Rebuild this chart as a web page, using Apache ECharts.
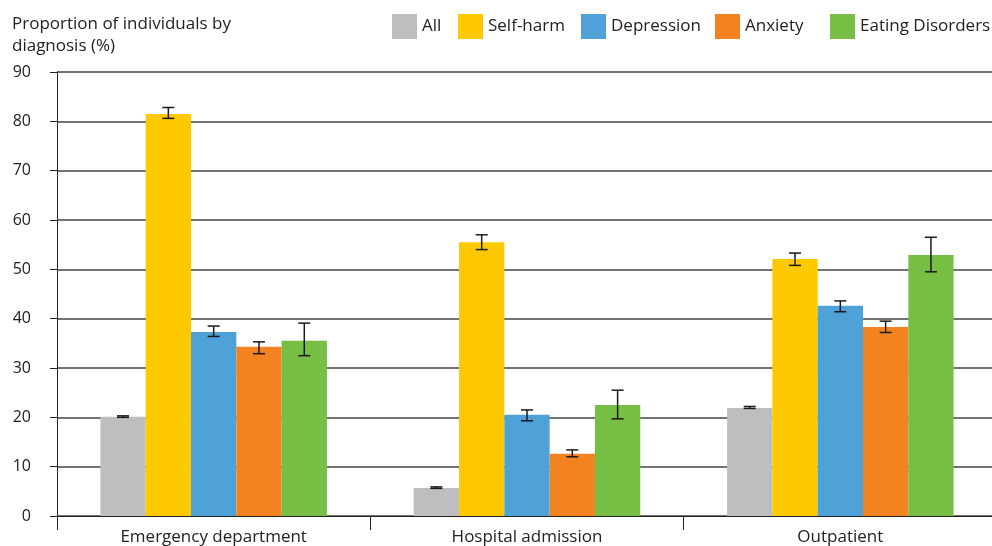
<!DOCTYPE html>
<html><head><meta charset="utf-8">
<script src="https://cdn.jsdelivr.net/npm/echarts@6/dist/echarts.min.js"></script>
<style>html,body{margin:0;padding:0;background:#fff}#c{width:992px;height:546px}</style>
</head><body><div id="c"></div>
<script>
const categories = ['Emergency department', 'Hospital admission', 'Outpatient'];
const seriesNames = ['All', 'Self-harm', 'Depression', 'Anxiety', 'Eating Disorders'];
const colors = ['#bdbec0', '#ffc900', '#4ea2d7', '#f38321', '#76bf44'];
const allVals = [20.1, 5.7, 21.9];
const selfHarmVals = [81.5, 55.5, 52.1];
const depressionVals = [37.3, 20.5, 42.6];
const anxietyVals = [34.3, 12.6, 38.3];
const eatingVals = [35.5, 22.5, 52.9];
const allLow = [20.0, 5.6, 21.8], allHigh = [20.3, 5.9, 22.2];
const selfHarmLow = [80.6, 54.0, 50.8], selfHarmHigh = [82.8, 57.0, 53.3];
const depressionLow = [36.4, 19.3, 41.4], depressionHigh = [38.5, 21.5, 43.6];
const anxietyLow = [32.9, 12.0, 37.2], anxietyHigh = [35.3, 13.4, 39.5];
const eatingLow = [32.5, 19.7, 49.5], eatingHigh = [39.1, 25.5, 56.5];
const yTicks = [0, 10, 20, 30, 40, 50, 60, 70, 80, 90];

const values = [allVals, selfHarmVals, depressionVals, anxietyVals, eatingVals];
const lows = [allLow, selfHarmLow, depressionLow, anxietyLow, eatingLow];
const highs = [allHigh, selfHarmHigh, depressionHigh, anxietyHigh, eatingHigh];
const CAT_GAP = 0.277;
const FONT = 'Open Sans';
const legendLefts = [392, 458, 581, 715, 830];

const series = [];
seriesNames.forEach((n, i) => {
  series.push({
    name: n, type: 'bar', data: values[i], barGap: '0%', barCategoryGap: (CAT_GAP * 100) + '%',
    itemStyle: { color: colors[i] }, z: 2
  });
});
seriesNames.forEach((n, i) => {
  series.push({
    type: 'custom', name: n + '_err', z: 5, silent: true,
    data: categories.map((c, k) => [k, lows[i][k], highs[i][k]]),
    renderItem: function (params, api) {
      const k = api.value(0);
      const lo = api.coord([k, api.value(1)]);
      const hi = api.coord([k, api.value(2)]);
      const cw = api.size([1, 0])[0];
      const bw = cw * (1 - CAT_GAP) / 5;
      const x = lo[0] + (i - 2) * bw;
      const cap = 6;
      const st = { stroke: '#1a1a1a', lineWidth: 1.5 };
      return { type: 'group', children: [
        { type: 'line', shape: { x1: x, y1: lo[1], x2: x, y2: hi[1] }, style: st },
        { type: 'line', shape: { x1: x - cap, y1: lo[1], x2: x + cap, y2: lo[1] }, style: st },
        { type: 'line', shape: { x1: x - cap, y1: hi[1], x2: x + cap, y2: hi[1] }, style: st }
      ]};
    }
  });
});

const legends = seriesNames.map((n, i) => ({
  data: [n], left: legendLefts[i], top: 14, padding: 0, itemWidth: 25, itemHeight: 25, itemGap: 0,
  icon: 'rect',
  textStyle: { fontFamily: FONT, fontSize: 17, color: '#222' }
}));

const chart = echarts.init(document.getElementById('c'));
chart.setOption({
  animation: false,
  textStyle: { fontFamily: FONT },
  title: {
    text: 'Proportion of individuals by\ndiagnosis (%)', left: 7, top: 8,
    textStyle: { fontFamily: FONT, fontSize: 17, fontWeight: 'normal', color: '#222', lineHeight: 22 }
  },
  legend: legends,
  grid: { left: 57, top: 72, width: 940, height: 444, containLabel: false, outerBoundsMode: 'none' },
  xAxis: {
    type: 'category', data: categories,
    axisLine: { lineStyle: { color: '#222', width: 1 } },
    axisTick: { show: true, length: 14, lineStyle: { color: '#222' }, alignWithLabel: false },
    axisLabel: { fontFamily: FONT, fontSize: 17, color: '#222', margin: 13 }
  },
  yAxis: {
    type: 'value', min: 0, max: 90, interval: 10,
    axisLine: { show: true, lineStyle: { color: '#222' } },
    axisTick: { show: true, length: 7, lineStyle: { color: '#222' } },
    axisLabel: { fontFamily: FONT, fontSize: 16, color: '#222', margin: 26 },
    splitLine: { lineStyle: { color: '#444', width: 1.5 } }
  },
  series: series
});
</script></body></html>
